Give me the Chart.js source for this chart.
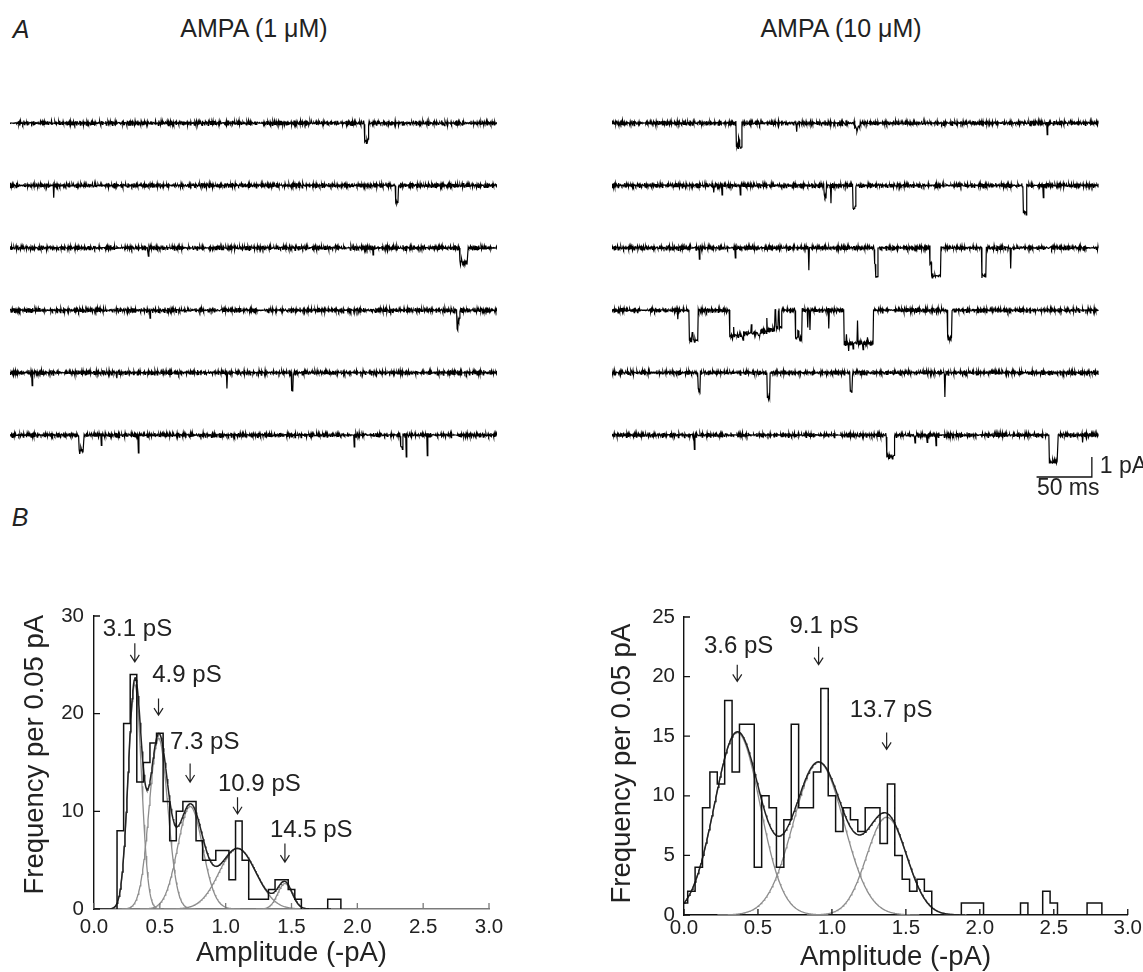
<!DOCTYPE html>
<html>
<head>
<meta charset="utf-8">
<title>AMPA single-channel currents</title>
<script src="https://cdn.jsdelivr.net/npm/chart.js@4.4.0/dist/chart.umd.min.js"></script>
<style>
  body { margin: 0; background: #fff; font-family: 'Liberation Sans', Arial, sans-serif; }
  #fig { position: relative; width: 1143px; height: 972px; overflow: hidden; background: #fff; }
  .lbl { position: absolute; transform: translate(-50%, -50%); white-space: nowrap; color: #222; font-size: 25px; }
  canvas { position: absolute; }
</style>
</head>
<body>
<div id="fig">
  <div class="lbl" style="left:21px;top:29px;font-style:italic">A</div>
  <div class="lbl" style="left:254px;top:28px">AMPA (1 μM)</div>
  <div class="lbl" style="left:841px;top:28px">AMPA (10 μM)</div>
  <div class="lbl" style="left:20px;top:517px;font-style:italic">B</div>
  <canvas id="traceLow" width="487" height="400" style="left:10px;top:93px"></canvas>
  <canvas id="traceHigh" width="531" height="420" style="left:612px;top:93px"></canvas>
  <canvas id="histLow" width="560" height="412" style="left:0px;top:560px"></canvas>
  <canvas id="histHigh" width="563" height="412" style="left:580px;top:560px"></canvas>
</div>
<script>
// ---------- sweeps: openings as [start ms, end ms, amplitude pA] ----------
const traceDuration = 440;   // ms per sweep
const sampleStep = 0.5;      // ms

const sweepsLow = [
  [[320.5, 323.6, 0.9]],
  [[39.1, 39.6, 0.5], [348.5, 350.6, 0.85]],
  [[124.9, 125.4, 0.4], [328.0, 328.5, 0.25], [406.3, 407.6, 0.75], [407.6, 408.4, 0.5], [408.4, 413.8, 0.75]],
  [[126.4, 126.9, 0.4], [403.9, 405.0, 1.0], [405.0, 406.3, 0.5]],
  [[19.6, 20.1, 0.63], [96.3, 96.8, 0.25], [195.7, 196.2, 0.75], [254.3, 255.8, 0.9]],
  [[62.3, 66.8, 0.85], [64.0, 64.8, 0.6], [82.2, 82.7, 0.4], [115.9, 116.4, 0.88], [310.9, 311.4, 0.55],
   [353.0, 354.6, 0.6], [357.6, 358.1, 1.05], [376.8, 377.3, 0.95]]
];

const sweepsHigh = [
  [[112.4, 114.5, 1.15], [114.5, 115.2, 0.8], [115.2, 117.5, 1.2], [166.6, 167.1, 0.5],
   [219.5, 221.0, 0.2], [221.0, 222.5, 0.35], [222.5, 224.5, 0.18], [393.3, 393.8, 0.5]],
  [[91.9, 92.4, 0.38], [99.4, 99.9, 0.47], [116.0, 116.5, 0.4], [192.0, 194.0, 0.55], [198.0, 198.5, 0.85],
   [217.9, 220.2, 1.13], [371.6, 374.6, 1.35], [389.7, 390.2, 0.6]],
  [[78.9, 79.4, 0.55], [111.5, 112.0, 0.5], [177.7, 178.2, 1.13], [237.2, 238.5, 0.8], [238.5, 240.2, 1.45],
   [287.2, 289.0, 0.75], [289.0, 297.5, 1.4], [334.5, 338.4, 1.38], [360.1, 360.6, 1.1]],
  [[59.3, 59.8, 0.45], [69.7, 72.5, 1.5], [72.5, 73.5, 1.05], [73.5, 77.6, 1.5],
   [106.5, 110.0, 1.3], [110.0, 110.5, 0.9], [110.5, 118.0, 1.25], [118.0, 119.0, 1.45], [119.0, 126.0, 1.15],
   [126.0, 126.5, 0.7], [126.5, 133.0, 1.15], [133.0, 134.0, 1.35], [134.0, 140.0, 1.05], [140.0, 140.5, 0.5],
   [140.5, 143.0, 1.0], [143.0, 147.5, 0.95], [148.5, 150.5, 0.9], [151.5, 153.1, 0.85],
   [165.6, 168.0, 1.4], [168.0, 169.0, 1.0], [169.0, 172.0, 1.4],
   [176.7, 177.2, 0.8], [178.9, 179.4, 1.0], [195.6, 196.1, 0.9],
   [209.7, 236.4, 1.65], [212.0, 212.5, 1.3], [214.0, 214.5, 2.0], [218.0, 218.5, 1.9], [222.0, 222.5, 0.45],
   [227.0, 227.5, 1.95], [231.0, 231.5, 1.35], [303.5, 307.2, 1.4]],
  [[77.6, 80.0, 0.9], [140.4, 143.0, 1.23], [215.5, 217.5, 0.95], [301.0, 301.5, 1.33]],
  [[74.4, 74.9, 0.8], [248.1, 255.3, 1.08], [274.0, 274.5, 0.5], [285.0, 285.5, 0.45], [293.0, 293.5, 0.5],
   [395.4, 403.3, 1.33], [425.2, 425.7, 0.3]]
];

// baseline noise (pA), two short hand-entered records
const noiseA = [0.03, -0.05, 0.06, -0.02, -0.07, 0.04, 0.01, -0.06, 0.07, -0.03, 0.00, 0.05, -0.07, 0.03, -0.02,
  0.06, -0.04, 0.02, -0.06, 0.07, -0.03, 0.04, -0.01, -0.07, 0.03, 0.06, -0.05, 0.01, 0.07, -0.06, 0.02, -0.03,
  0.05, -0.07, 0.06, -0.02, 0.03, -0.05, 0.07, -0.06, 0.00, 0.04, -0.03, 0.06, -0.07, 0.02, -0.01];
const noiseB = [-0.02, 0.04, -0.05, 0.03, 0.06, -0.04, -0.01, 0.05, -0.06, 0.03, 0.01, -0.03, 0.04, -0.05, 0.06,
  0.00, -0.04, 0.03, -0.06, 0.05, 0.01, -0.03, 0.04, -0.02, -0.05, 0.06, -0.03, 0.02, -0.04, 0.05, 0.00, -0.06,
  0.04, 0.01, -0.05, 0.03, -0.01, 0.06, -0.04, 0.02, 0.05, -0.03, -0.06, 0.04, 0.00, -0.02, 0.03, -0.05, 0.06,
  -0.03, 0.01, 0.04, -0.04, -0.06, 0.05, 0.03, -0.01, 0.00, 0.04, -0.05, 0.02];

// ---------- amplitude histograms: counts per 0.05 pA bin ----------
const binWidth = 0.05;
const lowBinStart = 0.175;
const lowCounts = [8, 19, 24, 13, 15, 17, 18, 11, 7, 10, 11, 11, 7, 5, 5, 6, 6, 3, 9, 5,
  1, 1, 1, 2, 3, 3, 2, 1, 0, 0, 0, 0, 1, 1];
const highBinStart = -0.025;
const highCounts = [1, 2, 4, 9, 12, 11, 18, 12, 16, 16, 4, 10, 9, 4, 8, 16, 9, 9, 12, 19,
  10, 7, 9, 8, 7, 9, 9, 6, 11, 5, 3, 2, 3, 2, 0, 0, 0, 0, 1, 1,
  1, 0, 0, 0, 0, 0, 1, 0, 0, 2, 1, 0, 0, 0, 0, 1, 1];

// Gaussian fit components
const drivingForce = 100; // mV
const lowConductance = [3.1, 4.9, 7.3, 10.9, 14.5];   // pS
const lowPeakHeight = [23.0, 17.5, 10.5, 6.2, 2.6];
const lowPeakSD = [0.05, 0.07, 0.095, 0.14, 0.055];
const highConductance = [3.6, 9.1, 13.7];             // pS
const highPeakHeight = [15.3, 12.8, 8.2];
const highPeakSD = [0.154, 0.171, 0.135];

// ---------- drawing ----------
const FONT = "'Liberation Sans', Arial, sans-serif";
Chart.defaults.font.family = FONT;
Chart.defaults.color = '#222';

const sweepSpacing = 3.12; // pA between stacked sweeps

function sweepPoints(events, base, phaseA, phaseB) {
  const pts = [];
  const n = Math.round(traceDuration / sampleStep);
  for (let k = 0; k <= n; k++) {
    const t = k * sampleStep;
    let amp = 0;
    for (const [a, b, v] of events) if (t >= a && t < b) amp = v;
    const nz = noiseA[(k + phaseA) % noiseA.length] + noiseB[(k + phaseB) % noiseB.length];
    pts.push({ x: t, y: base - amp + nz });
  }
  return pts;
}

// 50 ms / 1 pA calibration bar
const scaleBar = {
  id: 'scaleBar',
  afterDraw(chart) {
    const { ctx, scales: { x, y } } = chart;
    const endMs = 433.9, level = -17.7;
    const x0 = x.getPixelForValue(endMs - 50), x1 = x.getPixelForValue(endMs);
    const yb = y.getPixelForValue(level), yt = y.getPixelForValue(level + 1);
    ctx.save();
    ctx.strokeStyle = '#111';
    ctx.lineWidth = 1.3;
    ctx.beginPath();
    ctx.moveTo(x0, yb); ctx.lineTo(x1, yb); ctx.lineTo(x1, yt);
    ctx.stroke();
    ctx.fillStyle = '#222';
    ctx.font = '23px ' + FONT;
    ctx.textBaseline = 'middle';
    ctx.textAlign = 'left';
    ctx.fillText('1 pA', x1 + 8, (yb + yt) / 2);
    ctx.textAlign = 'center';
    ctx.fillText('50 ms', (x0 + x1) / 2 + 4, yb + 12);
    ctx.restore();
  }
};

function traceChart(id, sweeps, panel, padRight, yMin, extra) {
  const datasets = sweeps.map((events, i) => ({
    data: sweepPoints(events, -i * sweepSpacing, 7 * i + 19 * panel, 13 * i + 29 * panel),
    borderColor: '#000',
    borderWidth: 1.2,
    pointRadius: 0,
    tension: 0
  }));
  return new Chart(document.getElementById(id), {
    type: 'line',
    data: { datasets },
    options: {
      responsive: false,
      animation: false,
      parsing: false,
      normalized: true,
      events: [],
      layout: { padding: { left: 0, right: padRight, top: 0, bottom: 0 } },
      plugins: { legend: { display: false }, tooltip: { enabled: false } },
      scales: {
        x: { type: 'linear', min: 0, max: traceDuration, display: false },
        y: { type: 'linear', min: yMin, max: 1.5, display: false }
      }
    },
    plugins: extra
  });
}

traceChart('traceLow', sweepsLow, 0, 0, -18.5, []);
traceChart('traceHigh', sweepsHigh, 1, 44.4, -19.5, [scaleBar]);

function stairRuns(start, counts) {
  const runs = [];
  let run = null;
  counts.forEach((c, k) => {
    const edge = +(start + k * binWidth).toFixed(3);
    if (c > 0) {
      if (!run) { run = [{ x: edge, y: 0 }]; runs.push(run); }
      run.push({ x: edge, y: c });
    } else if (run) {
      run.push({ x: edge, y: 0 });
      run = null;
    }
  });
  if (run) run.push({ x: +(start + counts.length * binWidth).toFixed(3), y: 0 });
  return runs;
}

function gauss(h, m, s, x) { return h * Math.exp(-((x - m) ** 2) / (2 * s * s)); }

function curve(from, to, f) {
  const pts = [];
  for (let x = from; x <= to + 1e-9; x += 0.005) pts.push({ x: +x.toFixed(3), y: f(x) });
  return pts;
}

// ticks pointing into the plot
const innerTicks = {
  id: 'innerTicks',
  afterDraw(chart) {
    const { ctx, chartArea: a, scales: { x, y } } = chart;
    ctx.save();
    ctx.lineWidth = 1.3;
    ctx.strokeStyle = chart.options.scales.x.border.color;
    ctx.beginPath();
    x.ticks.forEach(t => {
      const px = x.getPixelForValue(t.value);
      ctx.moveTo(px, a.bottom); ctx.lineTo(px, a.bottom - 6);
    });
    ctx.stroke();
    ctx.strokeStyle = '#111';
    ctx.beginPath();
    y.ticks.forEach(t => {
      const py = y.getPixelForValue(t.value);
      ctx.moveTo(a.left, py); ctx.lineTo(a.left + 6, py);
    });
    ctx.stroke();
    ctx.restore();
  }
};

// axis titles placed along the axes
const axisTitles = {
  id: 'axisTitles',
  afterDraw(chart, args, o) {
    const { ctx, chartArea: a, scales: { x, y } } = chart;
    ctx.save();
    ctx.fillStyle = '#222';
    ctx.font = '27.5px ' + FONT;
    ctx.textAlign = 'center';
    ctx.textBaseline = 'middle';
    ctx.fillText('Amplitude (-pA)', x.getPixelForValue(o.xAt), a.bottom + o.xBelow);
    ctx.translate(a.left - o.yLeft, y.getPixelForValue(o.yAt));
    ctx.rotate(-Math.PI / 2);
    ctx.fillText('Frequency per 0.05 pA', 0, 0);
    ctx.restore();
  }
};

// conductance labels with arrows over each fitted peak
const peakLabels = {
  id: 'peakLabels',
  afterDatasetsDraw(chart, args, opts) {
    const { ctx, scales: { x, y } } = chart;
    ctx.save();
    ctx.fillStyle = '#222';
    ctx.strokeStyle = '#222';
    ctx.lineWidth = 1.2;
    ctx.font = '24px ' + FONT;
    ctx.textAlign = 'center';
    ctx.textBaseline = 'middle';
    opts.items.forEach(it => {
      ctx.fillText(it.text, x.getPixelForValue(it.x + it.dx), y.getPixelForValue(it.ty));
      const ax = x.getPixelForValue(it.x);
      const y0 = y.getPixelForValue(it.top), y1 = y.getPixelForValue(it.tip);
      ctx.beginPath();
      ctx.moveTo(ax, y0); ctx.lineTo(ax, y1);
      ctx.moveTo(ax - 4.5, y1 - 7); ctx.lineTo(ax, y1); ctx.lineTo(ax + 4.5, y1 - 7);
      ctx.stroke();
    });
    ctx.restore();
  }
};

function histChart(id, cfg) {
  const means = cfg.conductance.map(g => g * drivingForce / 1000);
  const datasets = [];
  stairRuns(cfg.binStart, cfg.counts).forEach(run => datasets.push({
    data: run, stepped: true, borderColor: '#111', borderWidth: 1.5, pointRadius: 0
  }));
  datasets.push({
    data: curve(0, cfg.sumEnd, x => means.reduce((s, m, i) => s + gauss(cfg.height[i], m, cfg.sd[i], x), 0)),
    borderColor: '#222', borderWidth: 1.5, pointRadius: 0, tension: 0
  });
  means.forEach((m, i) => datasets.push({
    data: curve(Math.max(0, m - 4 * cfg.sd[i]), m + 4 * cfg.sd[i], x => gauss(cfg.height[i], m, cfg.sd[i], x)),
    borderColor: '#8c8c8c', borderWidth: 1.3, pointRadius: 0, tension: 0
  }));
  const items = cfg.labels.map((l, i) => Object.assign({ text: cfg.conductance[i].toFixed(1) + ' pS', x: means[i] }, l));

  return new Chart(document.getElementById(id), {
    type: 'line',
    data: { datasets },
    options: {
      responsive: false,
      animation: false,
      events: [],
      layout: { padding: { left: 0, right: cfg.padRight, top: cfg.padTop, bottom: 0 } },
      plugins: {
        legend: { display: false }, tooltip: { enabled: false },
        peakLabels: { items },
        axisTitles: cfg.titles
      },
      scales: {
        x: {
          type: 'linear', min: 0, max: 3,
          afterFit: s => { s.height = cfg.xHeight; },
          border: { display: true, color: cfg.xAxisColor, width: 1.4 },
          grid: { display: false, drawTicks: false },
          ticks: { stepSize: 0.5, padding: cfg.xTickPad, autoSkip: false, maxRotation: 0,
                   font: { size: 20.5 }, callback: v => v.toFixed(1) }
        },
        y: {
          type: 'linear', min: 0, max: cfg.yMax,
          afterFit: s => { s.width = cfg.yWidth; },
          border: { display: true, color: '#111', width: 1.4 },
          grid: { display: false, drawTicks: false },
          ticks: { stepSize: cfg.yStep, padding: cfg.yTickPad, font: { size: 20.5 } }
        }
      }
    },
    plugins: [innerTicks, peakLabels, axisTitles]
  });
}

histChart('histLow', {
  binStart: lowBinStart, counts: lowCounts,
  conductance: lowConductance, height: lowPeakHeight, sd: lowPeakSD, sumEnd: 1.8,
  yMax: 30, yStep: 10,
  padTop: 56, padRight: 71, yWidth: 94, xHeight: 63,
  xTickPad: 6, yTickPad: 10, xAxisColor: '#7a7a7a',
  titles: { xAt: 1.5, xBelow: 44, yAt: 15.8, yLeft: 59 },
  labels: [
    { dx: 0.02, ty: 28.6, top: 27.2, tip: 25.3 },
    { dx: 0.216, ty: 23.9, top: 21.55, tip: 19.85 },
    { dx: 0.111, ty: 17.1, top: 14.9, tip: 13.0 },
    { dx: 0.166, ty: 12.8, top: 11.45, tip: 9.75 },
    { dx: 0.2, ty: 8.0, top: 6.7, tip: 4.8 }
  ]
});

histChart('histHigh', {
  binStart: highBinStart, counts: highCounts,
  conductance: highConductance, height: highPeakHeight, sd: highPeakSD, sumEnd: 1.9,
  yMax: 25, yStep: 5,
  padTop: 57, padRight: 14, yWidth: 104, xHeight: 57,
  xTickPad: 1, yTickPad: 9, xAxisColor: '#111',
  titles: { xAt: 1.43, xBelow: 42, yAt: 12.7, yLeft: 62 },
  labels: [
    { dx: 0.009, ty: 22.5, top: 21.0, tip: 19.6 },
    { dx: 0.037, ty: 24.2, top: 22.5, tip: 21.0 },
    { dx: 0.03, ty: 17.2, top: 15.3, tip: 13.9 }
  ]
});
</script>
</body>
</html>
